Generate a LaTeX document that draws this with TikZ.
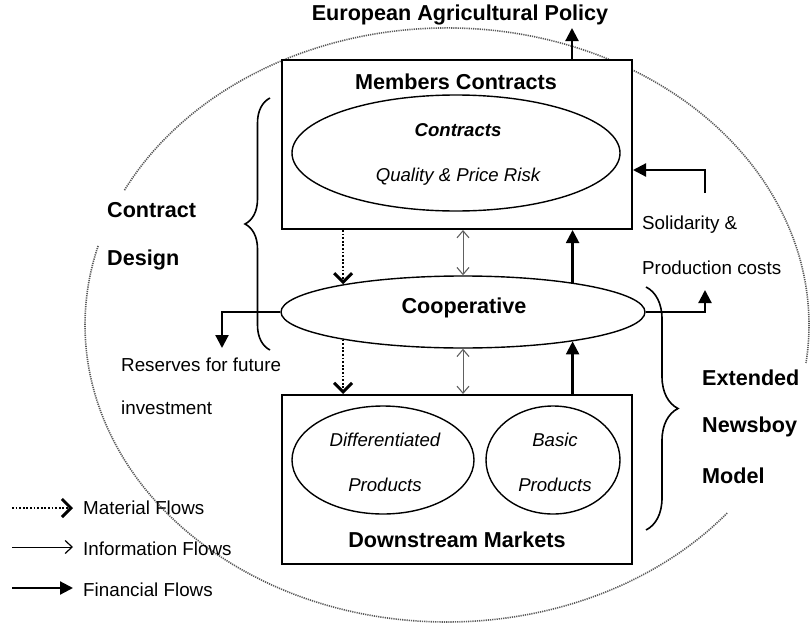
\documentclass[tikz,border=0pt]{standalone}
\usepackage{fontspec}
\setmainfont{Liberation Sans}
\usetikzlibrary{arrows.meta,shapes.geometric,decorations.pathreplacing}
\begin{document}
\begin{tikzpicture}[x=1pt,y=-1pt,
  boxnode/.style={draw, line width=2pt, fill=white, inner sep=0pt, minimum width=350pt, minimum height=169pt},
  ovalnode/.style={draw, ellipse, line width=1.4pt, inner sep=0pt},
  bigtxt/.style={font=\fontsize{21.6}{25}\selectfont\bfseries, inner sep=0pt},
  midtxt/.style={font=\fontsize{18.6}{22}\selectfont\bfseries\itshape, inner sep=0pt},
  regtxt/.style={font=\fontsize{18.8}{22}\selectfont, inner sep=0pt},
  ittxt/.style={font=\fontsize{18.6}{22}\selectfont\itshape, inner sep=0pt},
  halo/.style={line width=1.6pt, gray!70!black, dash pattern=on 1.2pt off 1pt},
  matflow/.style={line width=2.4pt, dash pattern=on 1.8pt off 1.8pt, -{Straight Barb[length=9pt,width=18pt,line width=3pt]}},
  infoflow/.style={line width=1pt, -{Straight Barb[length=7pt,width=13pt,line width=1.2pt]}},
  infodbl/.style={line width=1pt, gray!75!black, {Straight Barb[length=7pt,width=12pt,line width=1.1pt]}-{Straight Barb[length=7pt,width=12pt,line width=1.1pt]}},
  finflow/.style={line width=2.2pt, -{Triangle[length=13pt,width=13pt]}},
  bracestyle/.style={line width=1.6pt, decorate}
]
\useasboundingbox (0,0) rectangle (811,629);

% large dotted outline (with gaps where labels sit)
\draw[halo] (447,325) ++(39.3:362 and 297) arc[start angle=39.3, end angle=195.6, x radius=362, y radius=297];
\draw[halo] (447,325) ++(207:362 and 297) arc[start angle=207, end angle=367.35, x radius=362, y radius=297];

% boxes
\node[boxnode] (mc) at (457,144.5) {};
\node[boxnode] (ds) at (457,479.5) {};

% ellipses
\node[ovalnode, minimum width=328pt, minimum height=116pt] (ct) at (456,153) {};
\node[ovalnode, fill=white, minimum width=364pt, minimum height=72pt] (coop) at (463,312) {};
\node[ovalnode, minimum width=182pt, minimum height=108pt] (diff) at (383,460) {};
\node[ovalnode, minimum width=134pt, minimum height=108pt] (basic) at (553,460) {};

% texts
\node[bigtxt] (eap) at (460,15) {European Agricultural Policy};
\node[bigtxt] (mct) at (456,82) {Members Contracts};
\node[midtxt] (ctt) at (458,130) {Contracts};
\node[ittxt] (qpr) at (458,177) {Quality \& Price Risk};
\node[bigtxt] (coopt) at (464,308) {Cooperative};
\node[ittxt] (dif1) at (385,440) {Differentiated};
\node[ittxt] (dif2) at (385,485) {Products};
\node[ittxt] (bas1) at (555,440) {Basic};
\node[ittxt] (bas2) at (555,485) {Products};
\node[bigtxt] (dst) at (457,540) {Downstream Markets};
\node[regtxt, anchor=west] (sol) at (642,225) {Solidarity \&};
\node[regtxt, anchor=west] (prc) at (642,268) {Production costs};
\node[regtxt, anchor=west] (res) at (121,365) {Reserves for future};
\node[regtxt, anchor=west] (inv) at (121,408) {investment};
\node[bigtxt, anchor=west] (cd1) at (107,210) {Contract};
\node[bigtxt, anchor=west] (cd2) at (107,260) {Design};
\node[bigtxt, anchor=west] (en1) at (702,378) {Extended};
\node[bigtxt, anchor=west] (en2) at (702,427) {Newsboy};
\node[bigtxt, anchor=west] (en3) at (702,476) {Model};

% flows between boxes and cooperative
\draw[matflow] (mc.south -| coop.167) -- (coop.167);
\draw[infodbl] (mc.south -| coop.north) -- (coop.north);
\draw[finflow] (coop.15) -- (mc.south -| coop.15);
\draw[matflow] (coop.193) -- (ds.north -| coop.193);
\draw[infodbl] (coop.south) -- (ds.north -| coop.south);
\draw[finflow] (ds.north -| coop.345) -- (coop.345);

% external financial flows
\coordinate (eaptip) at (572,28);
\draw[finflow] (mc.north -| eaptip) -- (eaptip);
\coordinate (solbot) at (705,193);
\coordinate (soltop) at (705,170);
\draw[finflow] (solbot) -- (soltop) -- (soltop -| mc.east);
\coordinate (prodtip) at (705,290);
\draw[finflow] (coop.east) -| (prodtip);
\coordinate (restip) at (222,348);
\draw[finflow] (coop.west) -| (restip);

% braces
\draw[bracestyle, decoration={brace, amplitude=25pt}] (270,350) -- (270,98);
\draw[bracestyle, decoration={brace, amplitude=32pt}] (646,287) -- (646,530);

% legend
\coordinate (l1a) at (12,508); \coordinate (l1b) at (73,508);
\coordinate (l2a) at (12,547); \coordinate (l2b) at (73,547);
\coordinate (l3a) at (12,588); \coordinate (l3b) at (73,588);
\draw[matflow] (l1a) -- (l1b);
\draw[infoflow] (l2a) -- (l2b);
\draw[finflow] (l3a) -- (l3b);
\node[regtxt, anchor=west] (lg1) at (83,508) {Material Flows};
\node[regtxt, anchor=west] (lg2) at (83,549) {Information Flows};
\node[regtxt, anchor=west] (lg3) at (83,590) {Financial Flows};
\end{tikzpicture}
\end{document}
